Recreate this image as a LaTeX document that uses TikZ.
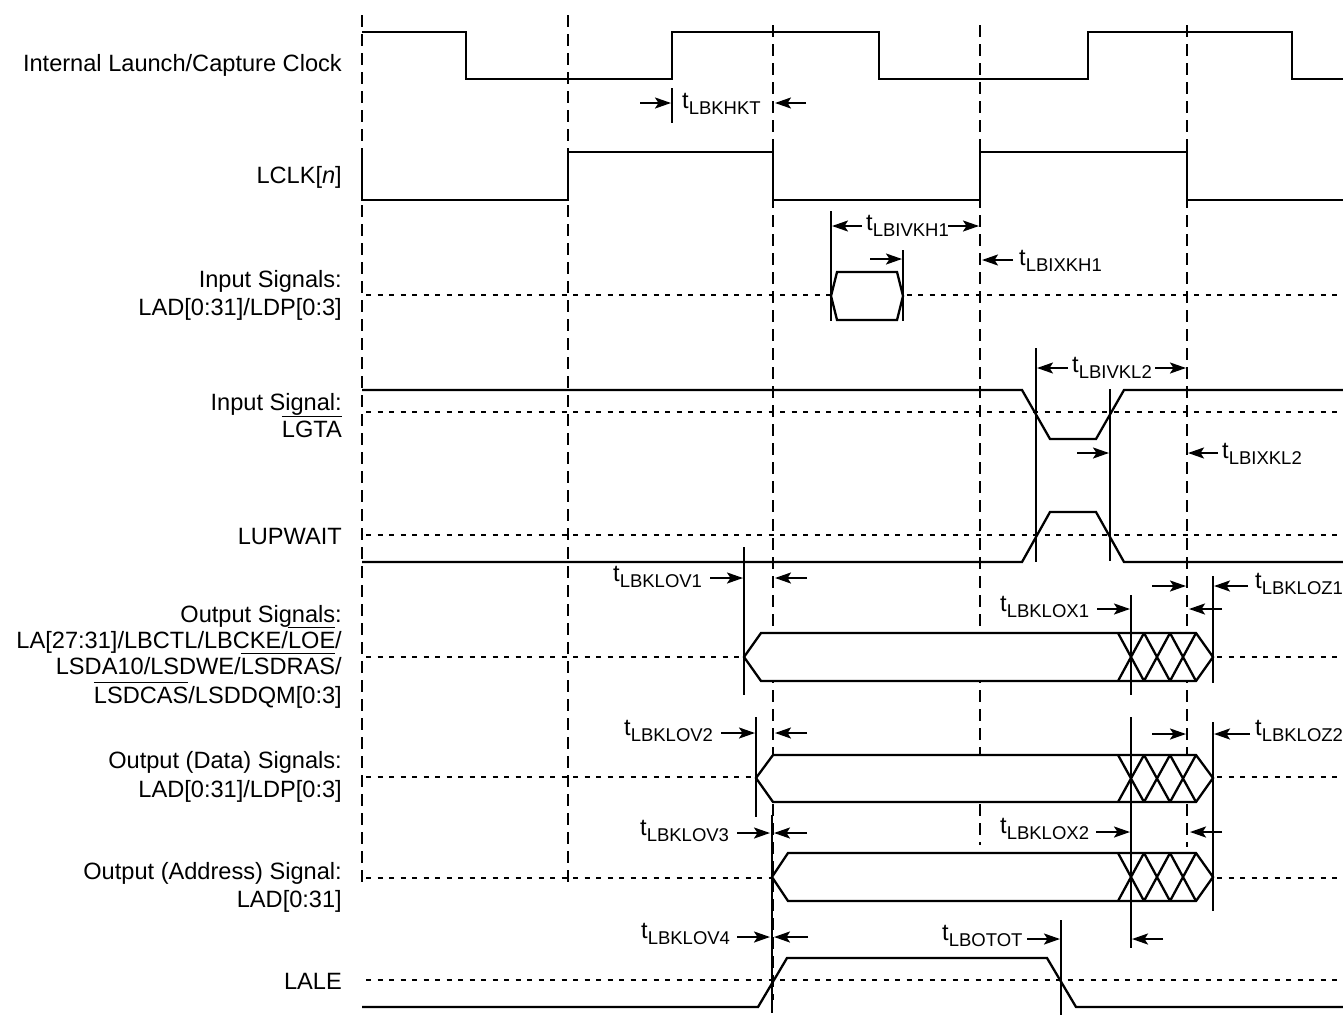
\documentclass[tikz,border=0pt]{standalone}
\usepackage{fontspec}
\setmainfont{Liberation Sans}
\usetikzlibrary{arrows.meta}
\newcommand{\tsig}[1]{t\raisebox{-6pt}{\fontsize{18.5}{20}\selectfont #1}}
\newcommand{\ovl}[1]{\vbox{\hrule height 1.3pt\kern 3.5pt\hbox{#1}}}
\tikzset{
  sigline/.style={line width=2.3pt, line join=miter},
  vdash/.style={line width=2pt, dash pattern=on 12pt off 7pt},
  hdash/.style={line width=1.5pt, dash pattern=on 5pt off 6.5pt},
  tickline/.style={line width=2.2pt},
  tarrow/.style={line width=2.2pt, -{Stealth[length=16pt,width=11pt,inset=3.5pt]}},
  lbl/.style={anchor=base east, inner sep=0pt, font=\fontsize{23.6}{28}\selectfont},
  tl/.style={anchor=base west, inner sep=0pt, font=\fontsize{23.6}{28}\selectfont},
}
\begin{document}
\begin{tikzpicture}[x=1pt,y=-1pt]
\useasboundingbox (0,0) rectangle (1343,1015);
% vertical dashed clock-edge lines
\draw[vdash] (362,15) -- (362,885);
\draw[vdash] (568,15) -- (568,885);
\draw[vdash] (773,25) -- (773,1000);
\draw[vdash] (980,25) -- (980,845);
\draw[vdash] (1187,25) -- (1187,847);
% horizontal dashed mid lines
\foreach \yy in {295,412,535,657,777,878,980}
  \draw[hdash] (366,\yy) -- (1343,\yy);
% input hexagon
\draw[sigline, fill=white] (831,296) -- (837,272) -- (897,272) -- (903,296) -- (897,320) -- (837,320) -- cycle;
% buses
\draw[sigline, fill=white] (744,657) -- (761,633) -- (1196,633) -- (1213,657) -- (1196,681) -- (761,681) -- cycle;
\draw[sigline] (1118,633) -- (1144,681) (1144,633) -- (1118,681) (1144,633) -- (1170,681) (1170,633) -- (1144,681) (1170,633) -- (1196,681) (1196,633) -- (1170,681);
\draw[sigline, fill=white] (756,778) -- (773,755) -- (1196,755) -- (1213,778) -- (1196,802) -- (773,802) -- cycle;
\draw[sigline] (1118,755) -- (1144,802) (1144,755) -- (1118,802) (1144,755) -- (1170,802) (1170,755) -- (1144,802) (1170,755) -- (1196,802) (1196,755) -- (1170,802);
\draw[sigline, fill=white] (772,877) -- (788,853) -- (1196,853) -- (1213,877) -- (1196,901) -- (788,901) -- cycle;
\draw[sigline] (1118,853) -- (1144,901) (1144,853) -- (1118,901) (1144,853) -- (1170,901) (1170,853) -- (1144,901) (1170,853) -- (1196,901) (1196,853) -- (1170,901);
% clocks
\draw[sigline] (362,32) -- (466,32) -- (466,79) -- (672,79) -- (672,32) -- (879,32) -- (879,79) -- (1088,79) -- (1088,32) -- (1292,32) -- (1292,79) -- (1343,79);
\draw[sigline] (362,155) -- (362,200) -- (568,200) -- (568,152) -- (773,152) -- (773,200) -- (980,200) -- (980,152) -- (1187,152) -- (1187,200) -- (1343,200);
% LGTA, LUPWAIT, LALE
\draw[sigline] (362,390) -- (1022,390) -- (1050,439) -- (1096,439) -- (1124,390) -- (1343,390);
\draw[sigline] (362,562) -- (1022,562) -- (1050,512) -- (1096,512) -- (1124,562) -- (1343,562);
\draw[sigline] (362,1007) -- (758,1007) -- (787,958) -- (1047,958) -- (1076,1007) -- (1343,1007);
% ticks
\draw[tickline] (672,88) -- (672,123);
\draw[tickline] (831,211) -- (831,321);
\draw[tickline] (903,250) -- (903,321);
\draw[tickline] (1036,348) -- (1036,562);
\draw[tickline] (1110,389) -- (1110,561);
\draw[tickline] (744,547) -- (744,695);
\draw[tickline] (1131,595) -- (1131,695);
\draw[tickline] (1131,717) -- (1131,948);
\draw[tickline] (1213,576) -- (1213,683);
\draw[tickline] (1213,722) -- (1213,911);
\draw[tickline] (756,717) -- (756,817);
\draw[tickline] (772,815) -- (772,1013);
\draw[tickline] (1061,920) -- (1061,1015);
% arrows
\draw[tarrow] (640,103) -- (671,103);
\draw[tarrow] (806,103) -- (775,103);
\draw[tarrow] (862,226) -- (832,226);
\draw[tarrow] (948,226) -- (979,226);
\draw[tarrow] (1013,260) -- (982,260);
\draw[tarrow] (870,259) -- (902,259);
\draw[tarrow] (1068,368) -- (1037,368);
\draw[tarrow] (1155,368) -- (1186,368);
\draw[tarrow] (1077,453) -- (1109,453);
\draw[tarrow] (1218,453) -- (1188,453);
\draw[tarrow] (710,578) -- (743,578);
\draw[tarrow] (807,578) -- (775,578);
\draw[tarrow] (1152,586) -- (1186,586);
\draw[tarrow] (1248,586) -- (1214,586);
\draw[tarrow] (1097,609) -- (1130,609);
\draw[tarrow] (1222,609) -- (1189,609);
\draw[tarrow] (721,733) -- (755,733);
\draw[tarrow] (807,733) -- (775,733);
\draw[tarrow] (1152,734) -- (1186,734);
\draw[tarrow] (1250,734) -- (1214,734);
\draw[tarrow] (737,833) -- (770,833);
\draw[tarrow] (807,833) -- (774,833);
\draw[tarrow] (1096,832) -- (1130,832);
\draw[tarrow] (1222,832) -- (1190,832);
\draw[tarrow] (737,937) -- (770,937);
\draw[tarrow] (808,937) -- (774,937);
\draw[tarrow] (1027,939) -- (1060,939);
\draw[tarrow] (1163,939) -- (1132,939);
% signal labels
\node[lbl] (l1) at (342,71) {Internal Launch/Capture Clock};
\node[lbl] (l2) at (342,183) {LCLK[\textit{n}]};
\node[lbl] (l3a) at (342,287) {Input Signals:};
\node[lbl] (l3b) at (342,315) {LAD[0:31]/LDP[0:3]};
\node[lbl] (l4a) at (342,410) {Input Signal:};
\node[lbl] (l4b) at (342,437) {\ovl{LGTA}};
\node[lbl] (l5) at (342,544) {LUPWAIT};
\node[lbl] (l6a) at (342,622.7) {Output Signals:};
\node[lbl] (l6b) at (342,648) {LA[27:31]/LBCTL/LBCKE/\ovl{LOE}/};
\node[lbl] (l6c) at (342,674) {LSDA10/LSDWE/\ovl{LSDRAS}/};
\node[lbl] (l6d) at (342,703) {\ovl{LSDCAS}/LSDDQM[0:3]};
\node[lbl] (l7a) at (342,768) {Output (Data) Signals:};
\node[lbl] (l7b) at (342,797) {LAD[0:31]/LDP[0:3]};
\node[lbl] (l8a) at (342,879) {Output (Address) Signal:};
\node[lbl] (l8b) at (342,907) {LAD[0:31]};
\node[lbl] (l9) at (342,989) {LALE};
% timing labels
\node[tl] (t1) at (682,108) {\tsig{LBKHKT}};
\node[tl] (t2) at (866,230) {\tsig{LBIVKH1}};
\node[tl] (t3) at (1019,265) {\tsig{LBIXKH1}};
\node[tl] (t4) at (1072,372) {\tsig{LBIVKL2}};
\node[tl] (t5) at (1222,458) {\tsig{LBIXKL2}};
\node[tl] (t6) at (613,581) {\tsig{LBKLOV1}};
\node[tl] (t7) at (1255,588) {\tsig{LBKLOZ1}};
\node[tl] (t8) at (1000,611) {\tsig{LBKLOX1}};
\node[tl] (t9) at (624,735) {\tsig{LBKLOV2}};
\node[tl] (t10) at (1255,735) {\tsig{LBKLOZ2}};
\node[tl] (t11) at (640,835) {\tsig{LBKLOV3}};
\node[tl] (t12) at (1000,833) {\tsig{LBKLOX2}};
\node[tl] (t13) at (641,938) {\tsig{LBKLOV4}};
\node[tl] (t14) at (942,940) {\tsig{LBOTOT}};
\end{tikzpicture}
\end{document}
